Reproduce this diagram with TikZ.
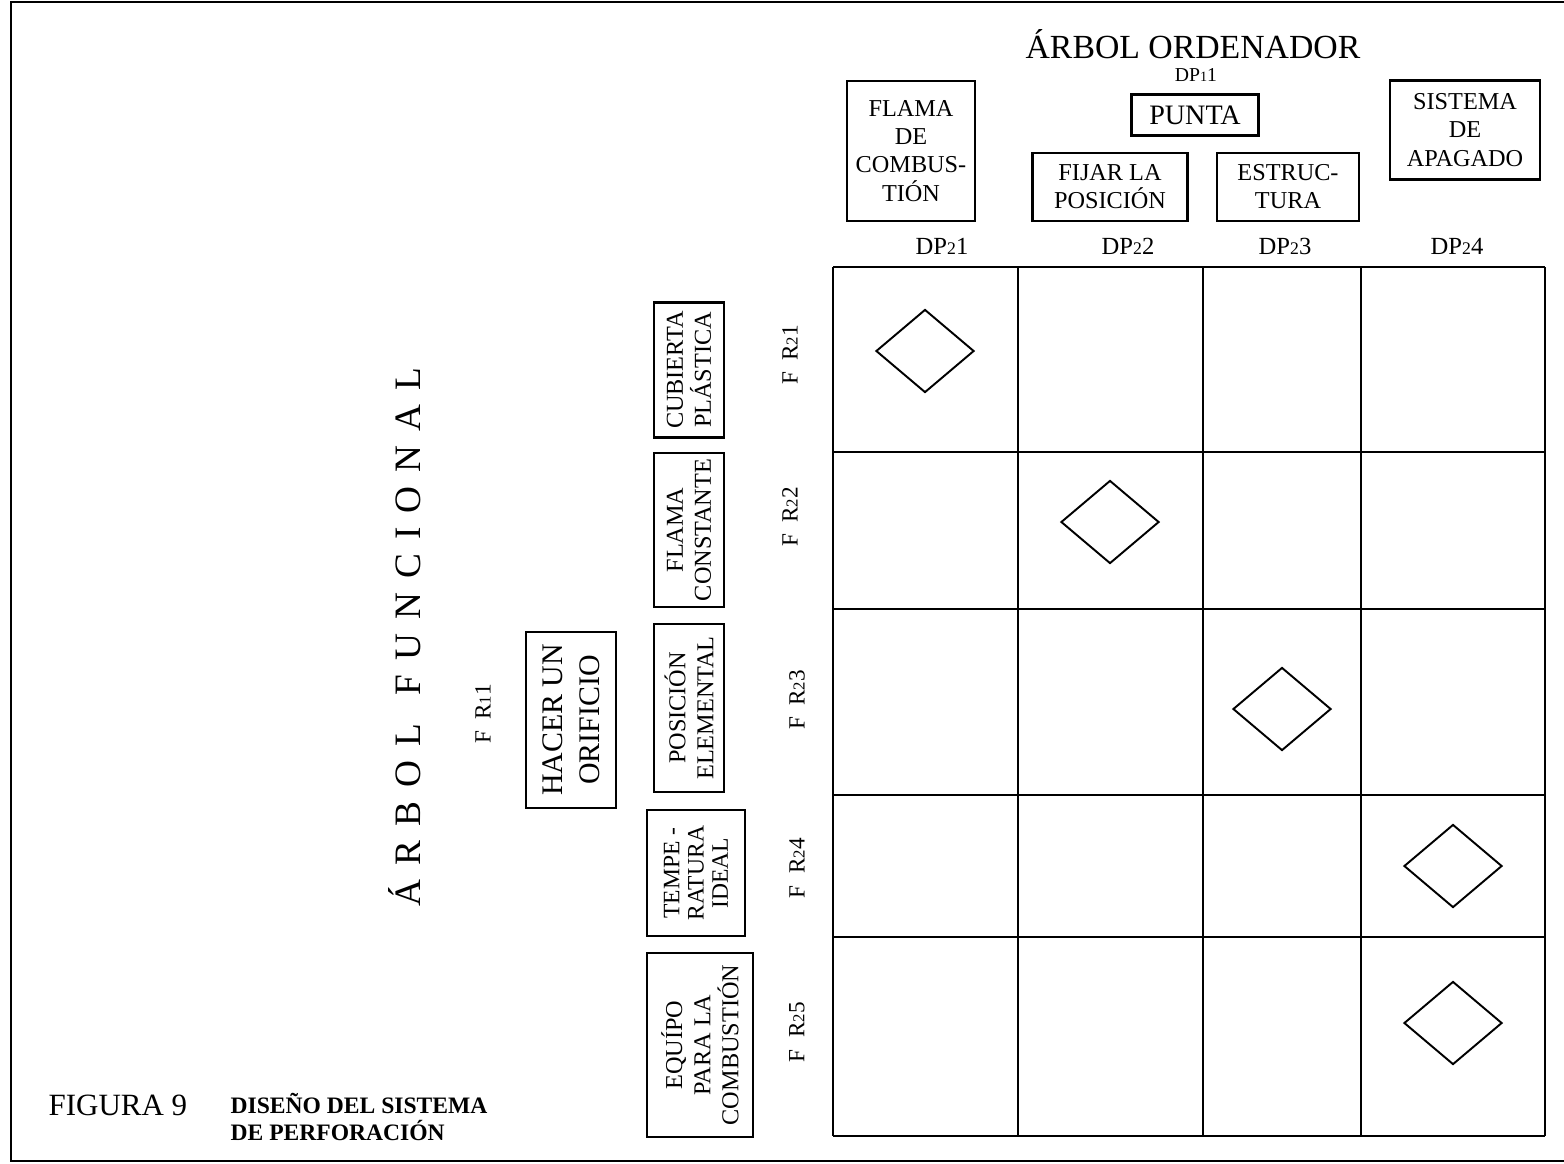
\documentclass[tikz,border=0pt]{standalone}
\usepackage{fontspec}
\setmainfont{Liberation Serif}
\usetikzlibrary{shapes.geometric}
\newcommand{\idx}[1]{\scalebox{0.72}{#1}}

\begin{document}
\begin{tikzpicture}[x=0.01cm, y=-0.01cm,
    box/.style={draw, line width=0.8pt, inner sep=0pt, align=center, font=\fontsize{6.9}{8}\selectfont},
    vbox/.style={box, rotate=90},
    dplabel/.style={font=\fontsize{7}{8}\selectfont},
    frlabel/.style={rotate=90, font=\fontsize{6.6}{8}\selectfont},
    cellmark/.style={draw, diamond, line width=0.55pt, inner sep=0pt, minimum width=0.98cm, minimum height=0.83cm}]
    \useasboundingbox (0,0) rectangle (1564,1163);

    % Outer frame
    \draw[line width=0.7pt] (11,2) rectangle (1568,1161);

    % ==== Matrix grid ====
    \foreach \gx in {833,1018,1203,1361,1545}
        \draw[line width=0.8pt] (\gx,267) -- (\gx,1136);
    \foreach \gy in {267,452,609,795,937,1136}
        \draw[line width=0.8pt] (833,\gy) -- (1545,\gy);

    % Diamonds in the cells
    \node[cellmark] (m11) at (925,351) {};
    \node[cellmark] (m22) at (1110,522) {};
    \node[cellmark] (m33) at (1282,709) {};
    \node[cellmark] (m44) at (1453,866) {};
    \node[cellmark] (m54) at (1453,1023) {};

    % ==== Arbol ordenador (top) ====
    \node[font=\fontsize{9.6}{11}\selectfont] (ordenador) at (1193,44) {ÁRBOL ORDENADOR};
    \node[font=\fontsize{5.6}{6}\selectfont] (dp11) at (1196,75) {DP\idx{1}1};
    \node[box, font=\fontsize{8}{9}\selectfont, minimum width=1.27cm, minimum height=0.41cm] (punta) at (1195,115) {PUNTA};
    \node[box, minimum width=1.28cm, minimum height=1.40cm] (flama) at (911,151) {FLAMA\\DE\\COMBUS-\\TIÓN};
    \node[box, minimum width=1.55cm, minimum height=0.68cm] (fijar) at (1110,187) {FIJAR LA\\POSICIÓN};
    \node[box, minimum width=1.42cm, minimum height=0.68cm] (estructura) at (1288,187) {ESTRUC-\\TURA};
    \node[box, minimum width=1.50cm, minimum height=0.99cm] (apagado) at (1465,130) {SISTEMA\\DE\\APAGADO};

    \node[dplabel] (dp21) at (942,246) {DP\idx{2}1};
    \node[dplabel] (dp22) at (1128,246) {DP\idx{2}2};
    \node[dplabel] (dp23) at (1285,246) {DP\idx{2}3};
    \node[dplabel] (dp24) at (1457,246) {DP\idx{2}4};

    % ==== Arbol funcional (left) ====
    \node[rotate=90, font=\fontsize{10.6}{12}\selectfont] (funcional) at (405,637)
        {\spaceskip=4.0pt Á R B O L \ F U N C I O N A L};
    \node[frlabel] (fr11) at (483,714) {F\ \ R\idx{1}1};
    \node[vbox, font=\fontsize{8.5}{10.5}\selectfont, minimum width=1.76cm, minimum height=0.90cm] (orificio) at (571,720) {HACER UN\\ORIFICIO};

    \node[vbox, minimum width=1.35cm, minimum height=0.70cm] (cubierta) at (689,370) {CUBIERTA\\PLÁSTICA};
    \node[vbox, minimum width=1.54cm, minimum height=0.70cm] (flamac) at (689,530) {FLAMA\\CONSTANTE};
    \node[vbox, minimum width=1.68cm, minimum height=0.70cm] (posicion) at (689,708) {POSICIÓN\\ELEMENTAL};
    \node[vbox, font=\fontsize{6.7}{6.9}\selectfont, minimum width=1.26cm, minimum height=0.98cm] (temperatura) at (696,873) {TEMPE -\\RATURA\\IDEAL};
    \node[vbox, minimum width=1.84cm, minimum height=1.06cm] (equipo) at (700,1045) {EQUÍPO\\PARA LA\\COMBUSTIÓN};

    \node[frlabel] (fr21) at (790,355) {F\ \ R\idx{2}1};
    \node[frlabel] (fr22) at (790,517) {F\ \ R\idx{2}2};
    \node[frlabel] (fr23) at (797,700) {F\ \ R\idx{2}3};
    \node[frlabel] (fr24) at (797,868) {F\ \ R\idx{2}4};
    \node[frlabel] (fr25) at (797,1032) {F\ \ R\idx{2}5};

    % ==== Caption ====
    \node[anchor=west, inner sep=0pt, font=\fontsize{8.8}{10}\selectfont] (figura) at (48,1105) {FIGURA 9};
    \node[anchor=west, inner sep=0pt, align=left, font=\bfseries\fontsize{6.7}{7.7}\selectfont] (titulo) at (230,1117) {DISEÑO DEL SISTEMA\\DE PERFORACIÓN};
\end{tikzpicture}
\end{document}
